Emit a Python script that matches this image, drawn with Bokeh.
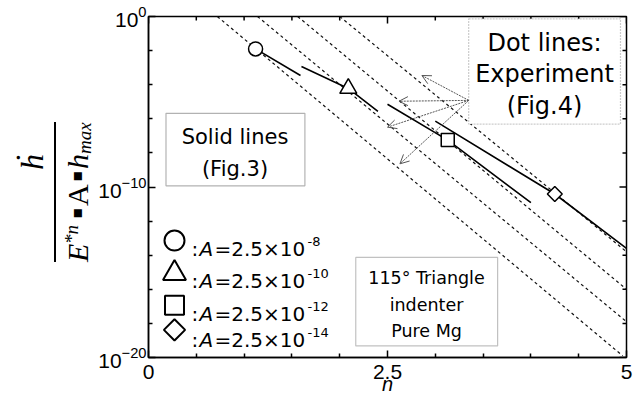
import numpy as np
from bokeh.plotting import figure
from bokeh.layouts import row
from bokeh.models import (FixedTicker, Label, Arrow, OpenHead, BoxAnnotation, Range1d,
                          ColumnDataSource, Div)
from bokeh.embed import file_html
from bokeh.resources import INLINE

# ---------------- data ----------------
# markers (n, log10 of normalised rate)
marker_n = [1.12, 2.09, 3.13, 4.25]
marker_log10 = [-1.90, -4.22, -7.25, -10.41]
marker_kind = ["circle", "triangle", "square", "diamond"]
A_exponents = ["-8", "-10", "-12", "-14"]

# dotted lines: Experiment (Fig.4)
exp_n_start = [0.72, 1.14, 1.56, 2.00]
exp_log_start = [0.0, 0.0, 0.0, 0.0]
exp_n_end = [4.96, 5.0, 5.0, 5.0]
exp_log_end = [-19.9, -17.9, -16.0, -13.8]

# solid lines: Fig.3
fig3_n = [[1.12, 1.59], [1.60, 2.09, 2.40], [2.50, 3.13, 4.00], [3.00, 4.25, 5.00]]
fig3_log10 = [[-1.90, -3.46], [-2.93, -4.22, -5.56], [-5.15, -7.25, -10.92], [-6.14, -10.41, -13.60]]

# arrows from "Dot lines" box
arrow_tail_n, arrow_tail_log10 = 3.35, -4.92
arrow_head_n = [2.86, 2.62, 2.50, 2.63]
arrow_head_log10 = [-3.46, -4.97, -6.49, -8.64]

x_ticks = [0, 2.5, 5]
x_minor = [0.5, 1, 1.5, 2, 3, 3.5, 4, 4.5]
y_ticks_exp = [-20, -10, 0]
y_minor_exp = [-18, -16, -14, -12, -8, -6, -4, -2]

# ---------------- layout constants (page pixels, page origin = canvas origin) ----------------
W, H = 642, 402
LEFT_W = 94           # strip holding the y-axis title
FL, FR, FT, FB = 148, 626, 16, 357   # frame edges

# ---------------- main figure ----------------
p = figure(width=W - LEFT_W, height=H, output_backend="svg", toolbar_location=None,
           x_range=Range1d(0, 5), y_range=Range1d(1e-20, 1), y_axis_type="log",
           min_border_left=FL - LEFT_W, min_border_right=W - FR, min_border_top=FT,
           min_border_bottom=H - FB)
p.grid.visible = False
p.outline_line_color = "black"
p.outline_line_width = 1.5
p.background_fill_color = "white"
p.border_fill_color = "white"

y_minor = [10.0 ** e for e in y_minor_exp]
y_major = [10.0 ** e for e in y_ticks_exp]
p.xaxis.ticker = FixedTicker(ticks=x_ticks, minor_ticks=x_minor)
p.yaxis.ticker = FixedTicker(ticks=y_major, minor_ticks=y_minor)
for ax in (p.xaxis[0], p.yaxis[0]):
    ax.axis_line_width = 1.5
    ax.axis_line_color = "black"
    ax.major_tick_in = 7
    ax.major_tick_out = 0
    ax.minor_tick_in = 4
    ax.minor_tick_out = 0
    ax.major_tick_line_width = 1.5
    ax.minor_tick_line_width = 1.5
    ax.major_tick_line_color = "black"
    ax.minor_tick_line_color = "black"
    ax.major_label_text_font = "Liberation Sans"
    ax.major_label_text_font_size = "21px"
    ax.major_label_text_color = "black"
p.xaxis.major_label_standoff = 7
p.yaxis.major_label_standoff = 2
p.xaxis.axis_label = "n"
p.xaxis.axis_label_text_font = "Liberation Sans"
p.xaxis.axis_label_text_font_style = "italic"
p.xaxis.axis_label_text_font_size = "20px"
p.xaxis.axis_label_text_color = "black"
p.xaxis.axis_label_standoff = -9

# ticks on the top and right edges (dash markers centred on the frame edge, clipped to the frame)
p.scatter(x_minor, [1.0] * len(x_minor), marker="dash", angle=np.pi / 2, size=8,
          line_color="black", line_width=1.5)
p.scatter(x_ticks, [1.0] * len(x_ticks), marker="dash", angle=np.pi / 2, size=14,
          line_color="black", line_width=1.5)
p.scatter([5.0] * len(y_minor), y_minor, marker="dash", size=8, line_color="black", line_width=1.5)
p.scatter([5.0] * len(y_major), y_major, marker="dash", size=14, line_color="black", line_width=1.5)

# dotted experiment lines
for xs0, ys0, xs1, ys1 in zip(exp_n_start, exp_log_start, exp_n_end, exp_log_end):
    p.line([xs0, xs1], [10.0 ** ys0, 10.0 ** ys1], line_color="#111111", line_width=1.2,
           line_dash="3 3")

# solid Fig.3 lines
for xs, ls in zip(fig3_n, fig3_log10):
    p.line(xs, [10.0 ** v for v in ls], line_color="black", line_width=1.6)

# markers
msize = {"circle": 14, "triangle": 17, "square": 13, "diamond": 10.5}
for n, lv, kind in zip(marker_n, marker_log10, marker_kind):
    mk = "square" if kind == "diamond" else kind
    ang = np.pi / 4 if kind == "diamond" else 0
    p.scatter([n], [10.0 ** lv], marker=mk, angle=ang, size=msize[kind],
              fill_color="white", line_color="black", line_width=1.5)

# legend markers
leg_n = 0.272
leg_log10 = [-13.14, -15.06, -16.93, -18.38]
leg_size = {"circle": 20, "triangle": 23, "square": 19, "diamond": 15}
for lv, kind in zip(leg_log10, marker_kind):
    mk = "square" if kind == "diamond" else kind
    ang = np.pi / 4 if kind == "diamond" else 0
    p.scatter([leg_n], [10.0 ** lv], marker=mk, angle=ang, size=leg_size[kind],
              fill_color="white", line_color="black", line_width=2)

# ---------------- annotation boxes ----------------
boxes = [
    dict(left=0.183, right=1.636, top=10 ** -5.68, bottom=10 ** -9.93, dash="solid", color="black"),
    dict(left=3.349, right=4.937, top=10 ** -0.134, bottom=10 ** -6.31, dash="2 1", color="#555555"),
    dict(left=2.168, right=3.652, top=10 ** -14.13, bottom=10 ** -19.32, dash="solid", color="#333333"),
]
for b in boxes:
    p.add_layout(BoxAnnotation(left=b["left"], right=b["right"], top=b["top"], bottom=b["bottom"],
                               fill_color="white", fill_alpha=1.0, line_color=b["color"],
                               line_width=1.2, line_dash=b["dash"]))

def slabel(text, px, py, size, font="DejaVu Sans", style="normal", align="left",
           baseline="alphabetic", angle=0.0):
    p.add_layout(Label(x=px - FL, y=FB - py, x_units="screen", y_units="screen", text=text,
                       text_font=font, text_font_size=f"{size}px", text_font_style=style,
                       text_align=align, text_baseline=baseline, angle=angle,
                       text_color="black"))

# box texts
for t, yy in zip(["Dot lines:", "Experiment", "(Fig.4)"], [42, 73, 105]):
    slabel(t, 544, yy, 24, align="center", baseline="middle")
for t, yy in zip(["Solid lines", "(Fig.3)"], [136, 168]):
    slabel(t, 234.5, yy, 21, align="center", baseline="middle")
for t, yy in zip(["115° Triangle", "indenter", "Pure Mg"], [277, 304, 330]):
    slabel(t, 426, yy, 17.5, align="center", baseline="middle")

# arrows
asrc = ColumnDataSource(dict(
    x0=[arrow_tail_n] * len(arrow_head_n),
    y0=[10.0 ** arrow_tail_log10] * len(arrow_head_n),
    x1=arrow_head_n,
    y1=[10.0 ** v for v in arrow_head_log10]))
p.add_layout(Arrow(x_start="x0", y_start="y0", x_end="x1", y_end="y1", source=asrc,
                   line_color="#555555", line_width=1, line_dash="2 1",
                   end=OpenHead(size=9, line_color="#555555", line_width=1)))

# legend text
leg_base = [248, 280, 313, 339]
for yb, ex in zip(leg_base, A_exponents):
    slabel(":", 191, yb, 20)
    slabel("A", 199, yb, 20, style="italic")
    slabel("=2.5×10", 214, yb, 20)
    slabel(ex, 307, yb - 7, 13)

# ---------------- left strip: y-axis title as a fraction (rotated HTML text) ----------------
SER = "'Liberation Serif', 'DejaVu Serif', serif"
SANS = "'DejaVu Sans', sans-serif"

def piece(text, base_x, y, size, italic=False, font=SER, centered=False, asc=0.838):
    left_px = base_x - asc * size
    tr = "rotate(-90deg)" + (" translateX(-50%)" if centered else "")
    style = (f"position:absolute;left:{left_px:.1f}px;top:{y}px;transform-origin:0 0;"
             f"transform:{tr};white-space:nowrap;line-height:1;font-family:{font};"
             f"font-size:{size}px;font-style:{'italic' if italic else 'normal'};color:black;")
    return f'<span style="{style}">{text}</span>'

pieces = [
    piece("ḣ", 43, 162, 32, italic=True, centered=True),
    piece("E", 88, 262, 30, italic=True),
    piece("*n", 78, 244, 19, italic=True),
    piece("▪", 82, 213, 16, font=SANS, centered=True, asc=0.846),
    piece("A", 88, 206, 30),
    piece("▪", 82, 176, 16, font=SANS, centered=True, asc=0.846),
    piece("h", 88, 169, 30, italic=True),
    piece("max", 91, 154, 19, italic=True),
]
bar = '<div style="position:absolute;left:54.3px;top:122px;width:1.4px;height:140px;background:black;"></div>'
html = (f'<div style="position:relative;width:{LEFT_W}px;height:{H}px;overflow:hidden;'
        f'background:white;">' + bar + "".join(pieces) + "</div>")
left = Div(text=html, width=LEFT_W, height=H, margin=0)

layout = row(left, p, spacing=0)
open("out.html", "w").write(file_html(layout, INLINE))
